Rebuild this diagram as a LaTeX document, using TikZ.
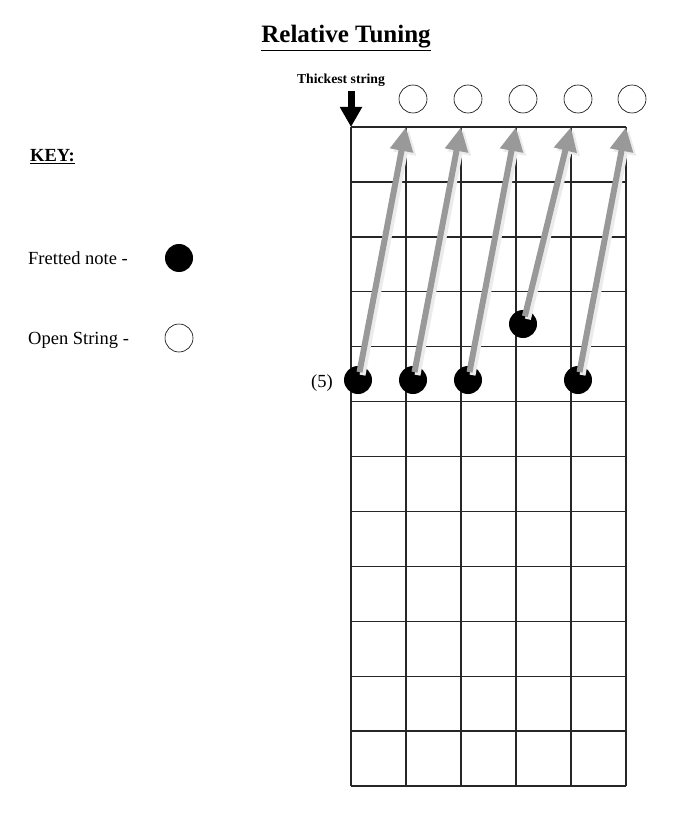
\documentclass[tikz,border=0pt]{standalone}
\usepackage{fontspec}
\setmainfont{Liberation Serif}
\usepackage{tikz}
\usetikzlibrary{positioning, arrows.meta}
\tikzset{%
  fret/.style={draw, line width=1.4pt, black!85},
  note/.style={circle, fill=black, minimum size=28pt, inner sep=0pt},
  open/.style={circle, draw, semithick, minimum size=28pt, inner sep=0pt},
  tune/.style={line width=6pt, black!40,
    -{Triangle[length=24pt, width=22pt]},
    shorten <=8pt},
  tuneshadow/.style={line width=6pt, black!8,
    -{Triangle[length=24pt, width=22pt]},
    shorten <=8pt},
  label/.style={font=\fontsize{18.5}{20}\selectfont, inner sep=0pt}
}
\begin{document}
\begin{tikzpicture}[x=1pt, y=-1pt]
    \useasboundingbox (0,0) rectangle (680,821);

    \node[font=\bfseries\fontsize{25}{27}\selectfont] (title) at (346,38)
      {\underline{Relative Tuning}};
    \node[label, font=\bfseries\fontsize{18.5}{20}\selectfont, anchor=west]
      (key) at (30,157) {\underline{KEY:}};
    \node[label, anchor=west] (fretted) at (28,258) {Fretted note -};
    \node[note] (keynote) at (179,258) {};
    \node[label, anchor=west] (openstr) at (28,340) {Open String -};
    \node[open] (keyopen) at (179,338) {};

    % fretboard
    \foreach \i in {0,...,12}
      \draw[fret] (351,127+\i*54.92) -- (626,127+\i*54.92);
    \foreach \s [count=\n] in {351,406,461,516,571,626} {
      \draw[fret] (\s,127) -- (\s,786);
      \coordinate (s\n) at (\s,127);
    }

    \node[font=\bfseries\fontsize{13.7}{15}\selectfont] (thick) at (341,80)
      {Thickest string};
    \coordinate (thicktop) at (351,91);
    \draw[line width=7pt, -{Triangle[length=20pt, width=21pt]}]
      (thicktop) -- (s1);

    \foreach \x [count=\n] in {413,468,523,578,632}
      \node[open] (o\n) at (\x,99) {};

    \node[label] (fret5) at (322,383) {(5)};
    \node[note] (d1) at (358,380) {};
    \node[note] (d2) at (413,380) {};
    \node[note] (d3) at (468,380) {};
    \node[note] (d4) at (523,324) {};
    \node[note] (d5) at (578,380) {};

    \foreach \d/\s in {1/2,2/3,3/4,4/5,5/6} {
      \draw[tuneshadow] ([shift={(3,3)}]d\d.center) -- ([shift={(3,3)}]s\s);
      \draw[tune] (d\d.center) -- (s\s);
    }

\end{tikzpicture}
\end{document}
